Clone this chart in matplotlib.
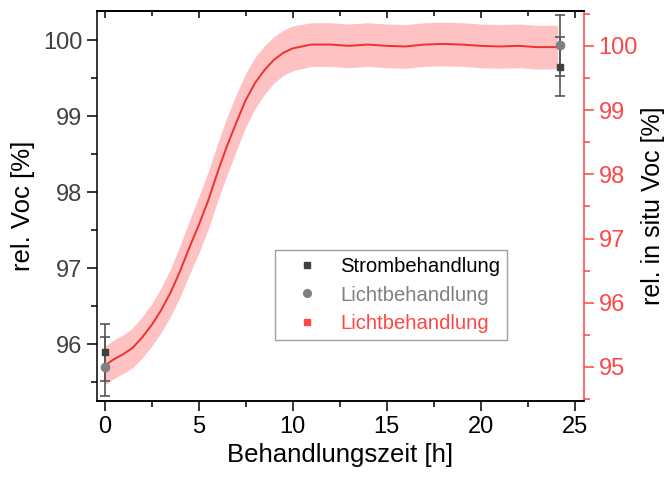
import matplotlib
matplotlib.use('Agg')
import matplotlib.pyplot as plt
from matplotlib.ticker import MultipleLocator
from matplotlib.lines import Line2D

plt.rcParams['font.family'] = ['Liberation Sans', 'DejaVu Sans']

# Einzelmessungen (linke Achse)
strom_x = [0, 24.2]
strom_y = [95.89, 99.65]
strom_err = [0.38, 0.39]
licht_x = [0, 24.2]
licht_y = [95.70, 99.93]
licht_err = [0.39, 0.40]

# in-situ Messung (rechte Achse)
insitu_t = [0, 0.5, 1, 1.5, 2, 2.5, 3, 3.5, 4, 4.5, 5, 5.5, 6, 6.5, 7, 7.5,
            8, 8.5, 9, 9.5, 10, 11, 12, 13, 14, 15, 16, 17, 18, 19, 20,
            21, 22, 23, 24.1]
insitu_v = [95.02, 95.12, 95.20, 95.30, 95.46, 95.65, 95.88, 96.15, 96.48,
            96.85, 97.20, 97.58, 98.02, 98.43, 98.80, 99.15, 99.42, 99.62,
            99.78, 99.89, 99.96, 100.02, 100.02, 100.00, 100.02, 100.00,
            99.99, 100.02, 100.03, 100.02, 100.00, 99.99, 100.00, 99.98,
            99.98]
insitu_sd = [0.30, 0.30, 0.30, 0.31, 0.32, 0.33, 0.35, 0.37, 0.40, 0.42,
             0.44, 0.45, 0.45, 0.45, 0.44, 0.42, 0.40, 0.38, 0.36, 0.35,
             0.35, 0.34, 0.34, 0.34, 0.34, 0.34, 0.34, 0.34, 0.34, 0.34,
             0.34, 0.34, 0.34, 0.34, 0.34]

RED = '#ff4545'
LINE_RED = '#f03030'
BAND = '#ffc2c2'
DARK = '#404040'
GRAY = '#808080'

fig = plt.figure(figsize=(6.67, 4.78), dpi=100)
ax = fig.add_axes([0.1454, 0.161, 0.7302, 0.817])
ax2 = ax.twinx()

lo = [v - s for v, s in zip(insitu_v, insitu_sd)]
hi = [v + s for v, s in zip(insitu_v, insitu_sd)]
ax2.fill_between(insitu_t, lo, hi, color=BAND, lw=0)
ax2.plot(insitu_t, insitu_v, color=LINE_RED, lw=1.4)

ax.errorbar(strom_x, strom_y, yerr=strom_err, fmt='s', color=DARK,
            ecolor='#555555', ms=5, capsize=3.5, elinewidth=1.2, capthick=1.2)
ax.errorbar(licht_x, licht_y, yerr=licht_err, fmt='o', color=GRAY,
            ecolor='#555555', ms=6, capsize=3.5, elinewidth=1.2, capthick=1.2)

ax.set_zorder(ax2.get_zorder() + 1)
ax.patch.set_visible(False)

ax.set_xlim(-0.4, 25.5)
ax.set_ylim(95.25, 100.39)
ax2.set_ylim(94.47, 100.55)

ax.xaxis.set_major_locator(MultipleLocator(5))
ax.xaxis.set_minor_locator(MultipleLocator(2.5))
ax.yaxis.set_major_locator(MultipleLocator(1))
ax.yaxis.set_minor_locator(MultipleLocator(0.5))
ax2.yaxis.set_major_locator(MultipleLocator(1))
ax2.yaxis.set_minor_locator(MultipleLocator(0.5))

ax.tick_params(axis='both', which='major', direction='out', length=7,
               width=1.1, labelsize=17, labelcolor='#404040')
ax.tick_params(axis='both', which='minor', direction='out', length=4,
               width=1.1)
ax.tick_params(axis='x', labelcolor='black')
ax.tick_params(axis='y', right=False, which='both')
ax2.tick_params(axis='y', which='major', direction='out', length=7,
                width=1.1, colors=RED, labelsize=17)
ax2.tick_params(axis='y', which='minor', direction='out', length=4,
                width=1.1, colors=RED)

top = ax.secondary_xaxis('top')
top.xaxis.set_major_locator(MultipleLocator(5))
top.xaxis.set_minor_locator(MultipleLocator(2.5))
top.tick_params(which='major', direction='in', length=5, width=1.1,
                labeltop=False)
top.tick_params(which='minor', direction='in', length=3.5, width=1.1)

for a in (ax, ax2):
    for s in a.spines.values():
        s.set_linewidth(1.1)
ax.spines['right'].set_visible(False)
ax2.spines['left'].set_visible(False)
ax2.spines['right'].set_color(RED)
top.spines['top'].set_linewidth(1.1)

ax.set_xlabel('Behandlungszeit [h]', fontsize=18.5, labelpad=4)
ax.set_ylabel('rel. Voc [%]', fontsize=18.5, labelpad=6)
ax2.set_ylabel('rel. in situ Voc [%]', fontsize=18)
ax2.yaxis.set_label_coords(1.117, 0.5)

handles = [
    Line2D([], [], ls='none', marker='s', color=DARK, ms=5),
    Line2D([], [], ls='none', marker='o', color=GRAY, ms=5.5),
    Line2D([], [], ls='none', marker='s', color=RED, ms=5),
]
labels = ['Strombehandlung', 'Lichtbehandlung', 'Lichtbehandlung']
leg = ax.legend(handles, labels, loc='upper left',
                bbox_to_anchor=(0.3655, 0.386), borderaxespad=0,
                fontsize=14.6, frameon=True, fancybox=False, framealpha=1,
                edgecolor='#a0a0a0', handlelength=2.5, handletextpad=0.35,
                labelspacing=0.45, borderpad=0.35)
leg.get_frame().set_linewidth(1.0)
for t, c in zip(leg.get_texts(), ['black', GRAY, RED]):
    t.set_color(c)

fig.savefig('out.png', dpi=100)
